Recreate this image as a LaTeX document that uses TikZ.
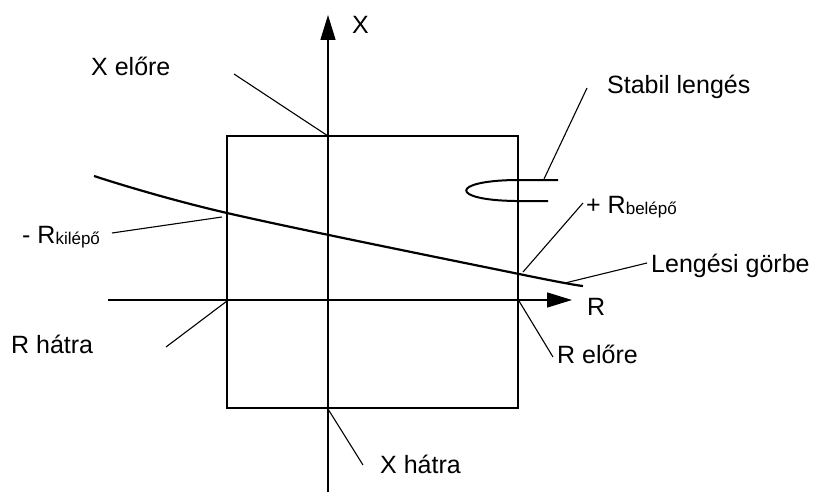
\documentclass[tikz,border=0pt]{standalone}
\usepackage{fontspec}
\setmainfont{Liberation Sans}
\usetikzlibrary{arrows.meta}
\begin{document}
\begin{tikzpicture}[x=1pt,y=-1pt,
  lbl/.style={anchor=base west,inner sep=0pt,font=\fontsize{25}{28}\selectfont},
  leader/.style={line width=1.1pt},
  axis/.style={line width=1.5pt,-{Triangle[length=25pt,width=15pt]}},
  boxline/.style={line width=1.3pt},
  curveline/.style={line width=2.2pt}]
\useasboundingbox (0,0) rectangle (822,500);
\newcommand{\sbs}[1]{\raisebox{-1pt}{\fontsize{17}{20}\selectfont #1}}
% box
\draw[boxline] (227,136) rectangle (518,408);
% axes
\coordinate (xbot) at (328,492);
\coordinate (xtop) at (328,15);
\coordinate (rleft) at (108,300);
\coordinate (rright) at (572,300);
\draw[axis] (xbot) -- (xtop);
\draw[axis] (rleft) -- (rright);
% curve
\draw[curveline] plot[smooth,tension=0.6] coordinates {(94,176) (227,213) (519,274) (583,286)};
% stable loop
\draw[line width=2pt] (558,180) -- (515,180) .. controls (450,181) and (450,200) .. (515,201) -- (548,201);
% labels
\node[lbl] (lx) at (352,34) {X};
\node[lbl] (lr) at (587,315) {R};
\node[lbl] (xelo) at (91,76) {X előre};
\node[lbl] (stab) at (607,94) {Stabil lengés};
\node[lbl] (rbel) at (586,213) {+ R\sbs{belépő}};
\node[lbl] (rkil) at (22,243) {- R\sbs{kilépő}};
\node[lbl] (leng) at (651,272) {Lengési görbe};
\node[lbl] (relo) at (557,363) {R előre};
\node[lbl] (rhat) at (11,353) {R hátra};
\node[lbl] (xhat) at (380,473) {X hátra};
% leader coordinates
\coordinate (a1) at (328,136); \coordinate (a2) at (234,74);
\coordinate (b1) at (544,179); \coordinate (b2) at (587,88);
\coordinate (c1) at (523,272); \coordinate (c2) at (583,203);
\coordinate (d1) at (222,217); \coordinate (d2) at (112,233);
\coordinate (e1) at (565,283); \coordinate (e2) at (647,263);
\coordinate (f1) at (519,301); \coordinate (f2) at (553,357);
\coordinate (g1) at (227,301); \coordinate (g2) at (166,347);
\coordinate (h1) at (328,409); \coordinate (h2) at (363,465);
\draw[leader] (a1) -- (a2);
\draw[leader] (b1) -- (b2);
\draw[leader] (c1) -- (c2);
\draw[leader] (d1) -- (d2);
\draw[leader] (e1) -- (e2);
\draw[leader] (f1) -- (f2);
\draw[leader] (g1) -- (g2);
\draw[leader] (h1) -- (h2);
\end{tikzpicture}
\end{document}
